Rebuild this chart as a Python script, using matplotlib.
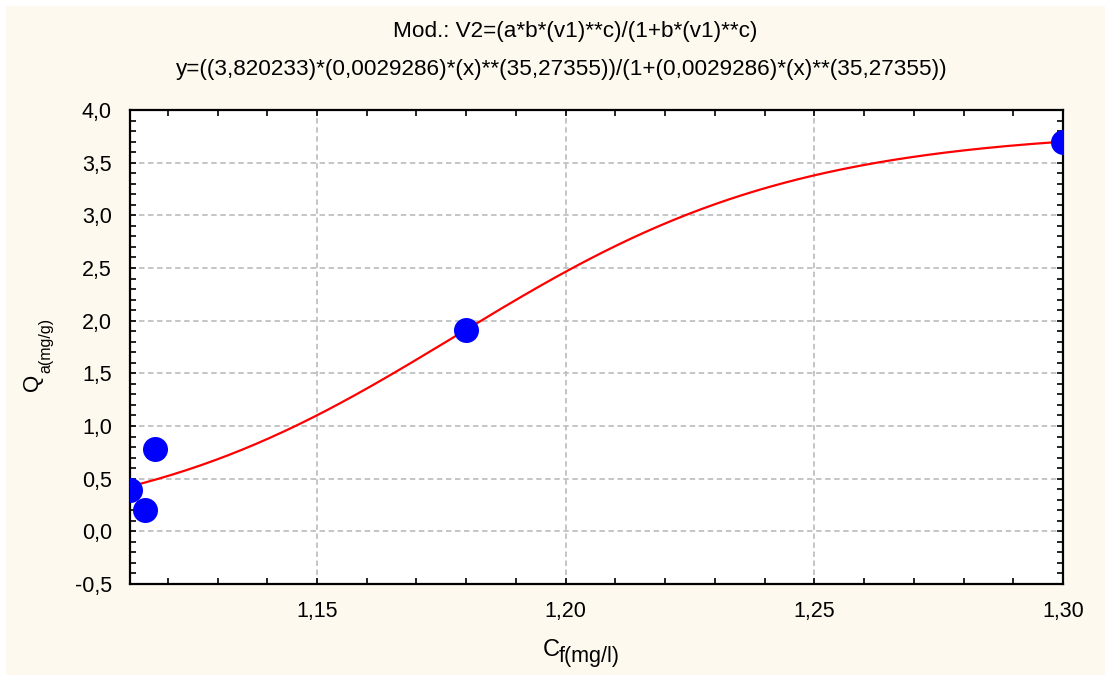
import numpy as np
import matplotlib
matplotlib.use("Agg")
import matplotlib.pyplot as plt
from matplotlib.ticker import MultipleLocator, FuncFormatter
from matplotlib.patches import Rectangle

plt.rcParams['font.family'] = ['Liberation Sans', 'DejaVu Sans']

# Observed data
cf = [1.1124, 1.1154, 1.1174, 1.180, 1.300]
qa = [0.39, 0.20, 0.78, 1.91, 3.70]

# Fitted model parameters: y = a*b*x**c / (1 + b*x**c)
a_par = 3.820233
b_par = 0.0029286
c_par = 35.27355

title_1 = "Mod.: V2=(a*b*(v1)**c)/(1+b*(v1)**c)"
title_2 = "y=((3,820233)*(0,0029286)*(x)**(35,27355))/(1+(0,0029286)*(x)**(35,27355))"

x_ticks = [1.15, 1.20, 1.25, 1.30]
y_lim = (-0.5, 4.0)

W, H = 1105, 675
fig = plt.figure(figsize=(W / 100, H / 100), dpi=100, facecolor='white')
fig.patches.append(Rectangle((6 / W, 0), 1 - 6 / W, 1 - 6 / H, transform=fig.transFigure,
                             facecolor='#FDF9EE', edgecolor='none', zorder=-10))


def px(x, y):
    """Pixel position (from the top-left corner) to figure fraction."""
    return x / W, 1 - y / H


ax = fig.add_axes([130 / W, 1 - 584 / H, (1063 - 130) / W, (584 - 110) / H])
ax.set_facecolor('white')

xs = np.linspace(min(cf), max(cf), 400)
ys = a_par * b_par * xs ** c_par / (1 + b_par * xs ** c_par)
ax.plot(xs, ys, color='#FF0000', lw=1.6, zorder=3)
ax.plot(cf, qa, 'o', color='#0000FF', ms=18, mec='none', zorder=4)

ax.set_xlim(min(cf), max(cf))
ax.set_ylim(*y_lim)
ax.set_xticks(x_ticks)
ax.xaxis.set_minor_locator(MultipleLocator(0.01))
ax.yaxis.set_major_locator(MultipleLocator(0.5))
ax.yaxis.set_minor_locator(MultipleLocator(0.1))
ax.xaxis.set_major_formatter(FuncFormatter(lambda v, p: f"{v:.2f}".replace('.', ',')))
ax.yaxis.set_major_formatter(FuncFormatter(lambda v, p: f"{v:.1f}".replace('.', ',')))

ax.grid(True, which='major', color='#C0C0C0', ls=(0, (3, 2)), lw=1.3)
ax.set_axisbelow(True)
for s in ax.spines.values():
    s.set_linewidth(1.6)
    s.set_color('black')

ax.tick_params(which='both', direction='in', top=True, right=True, colors='black',
               labelsize=15.5)
ax.tick_params(which='both', length=4, width=1.2)
ax.tick_params(axis='x', which='major', pad=12)
ax.tick_params(axis='y', which='major', pad=13)

# Model description above the plot
fig.text(*px(575, 31), title_1, ha='center', va='center', fontsize=16.2)
fig.text(*px(562, 70), title_2, ha='center', va='center', fontsize=16.2)

# Axis titles with subscripts
fig.text(*px(543, 656), 'C', ha='left', va='baseline', fontsize=17)
fig.text(*px(559, 662), 'f(mg/l)', ha='left', va='baseline', fontsize=15.5)
fig.text(*px(38, 391), 'Q', ha='left', va='baseline', fontsize=16)
fig.texts[-1].set_rotation(90)
fig.texts[-1].set_rotation_mode('anchor')
fig.text(*px(50, 373), 'a(mg/g)', ha='left', va='baseline', fontsize=11.5,
         rotation=90, rotation_mode='anchor')

fig.savefig('out.png', dpi=100, facecolor=fig.get_facecolor())
